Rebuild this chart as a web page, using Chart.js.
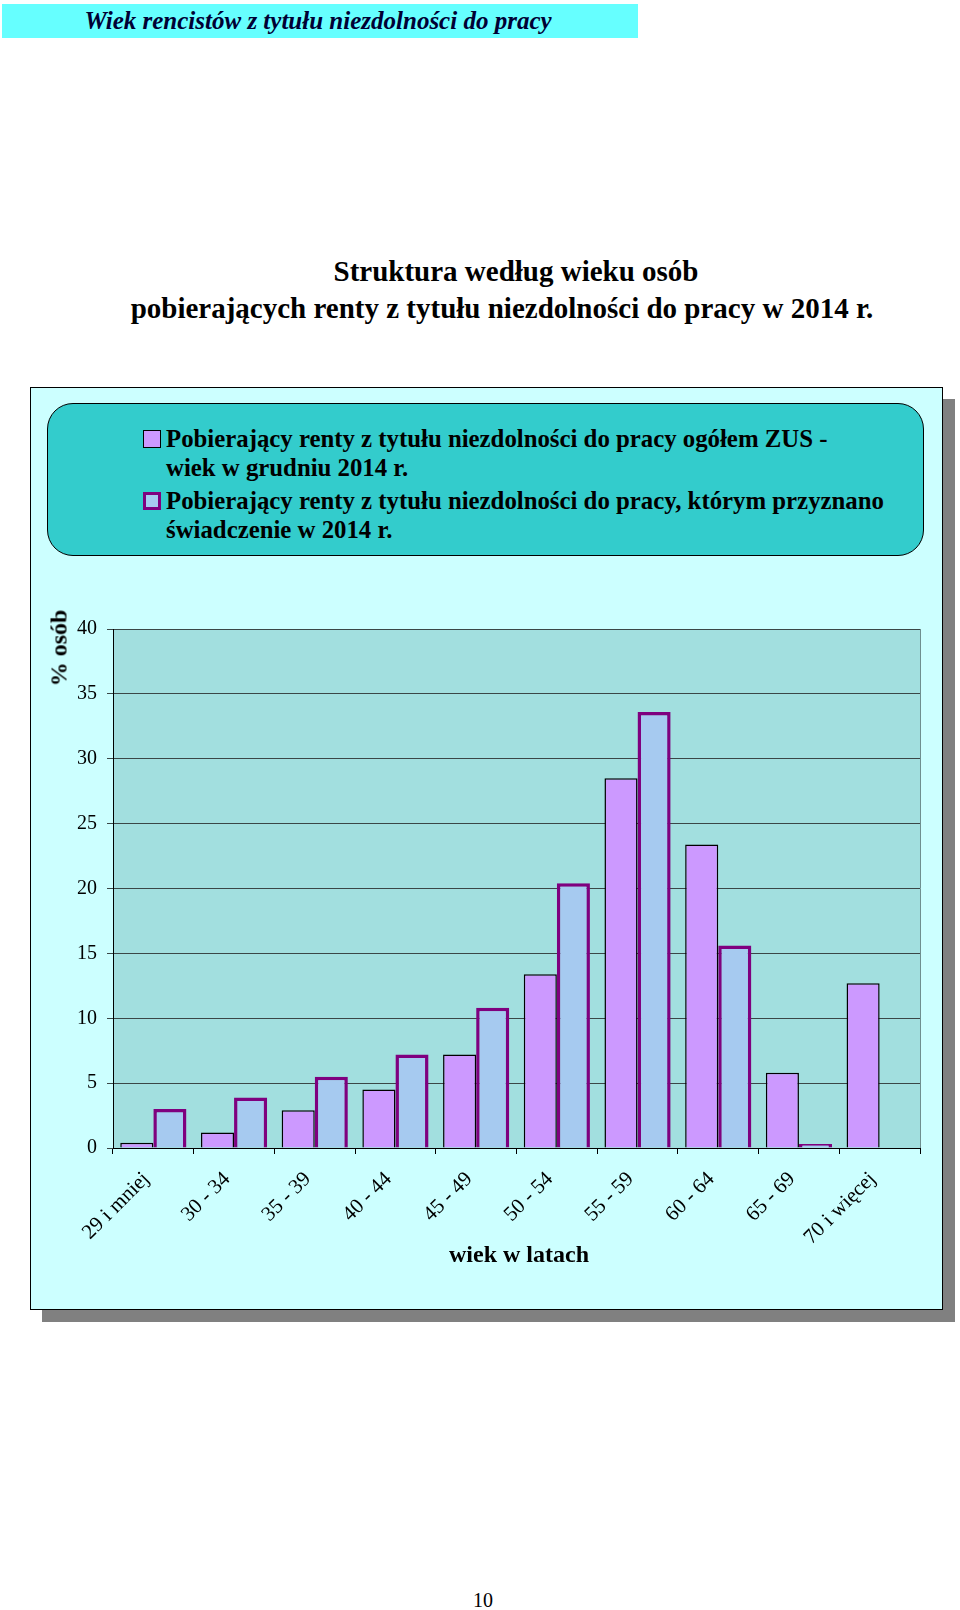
<!DOCTYPE html>
<html>
<head>
<meta charset="utf-8">
<script src="https://cdn.jsdelivr.net/npm/chart.js@4.4.1/dist/chart.umd.min.js"></script>
<style>
  html, body { margin: 0; padding: 0; background: #ffffff; }
  body { width: 960px; height: 1610px; position: relative; overflow: hidden; font-family: "Liberation Serif", "Times New Roman", serif; color: #000; }
  .abs { position: absolute; }
  #banner { left: 2px; top: 4px; width: 636px; height: 34px; background: #66FFFF; font-style: italic; font-weight: bold; font-size: 25px; line-height: 34px; text-align: center; color: #000033; text-indent: -4px; }
  .title { font-weight: bold; font-size: 29px; line-height: 34px; white-space: nowrap; text-align: center; }
  #box { left: 30px; top: 387px; width: 913px; height: 923px; box-sizing: border-box; border: 1px solid #000; background: #CCFFFF; box-shadow: 12px 12px 0 #808080; }
  #chartCanvas { left: 30px; top: 387px; }
  #legend { left: 47px; top: 403px; width: 877px; height: 153px; box-sizing: border-box; border: 1.5px solid #000; border-radius: 26px; background: #33CCCC; }
  .litem { position: absolute; left: 95px; display: flex; align-items: flex-start; }
  .lmark { width: 18px; height: 18px; box-sizing: border-box; margin-top: 6px; margin-right: 5px; flex: none; }
  .ltext { font-weight: bold; font-size: 24.8px; line-height: 29px; white-space: pre-line; }
  #ytitle { font-weight: bold; font-size: 24px; white-space: nowrap; transform: translate(-50%, -50%) rotate(-90deg); left: 59px; top: 648px; }
  #xtitle { font-weight: bold; font-size: 24px; white-space: nowrap; transform: translate(-50%, -50%); left: 519px; top: 1254px; }
  #pageno { font-size: 20px; transform: translate(-50%, -50%); left: 483px; top: 1600px; }
</style>
</head>
<body>
<div id="banner" class="abs">Wiek rencistów z tytułu niezdolności do pracy</div>
<div class="abs title" style="left:316px; top:254px; width:400px;">Struktura według wieku osób</div>
<div class="abs title" style="left:102px; top:291px; width:800px;">pobierających renty z tytułu niezdolności do pracy w 2014 r.</div>

<div id="box" class="abs"></div>
<canvas id="chartCanvas" class="abs" width="913" height="923"></canvas>
<div id="legend" class="abs"></div>
<div id="ytitle" class="abs">% osób</div>
<div id="xtitle" class="abs">wiek w latach</div>
<div id="pageno" class="abs">10</div>

<script>
// ---- data ----
const categories = ['29 i mniej', '30 - 34', '35 - 39', '40 - 44', '45 - 49', '50 - 54', '55 - 59', '60 - 64', '65 - 69', '70 i więcej'];
const ogolemValues = [0.4, 1.2, 2.9, 4.5, 7.2, 13.4, 28.5, 23.4, 5.8, 12.7];
const przyznaneValues = [3.0, 3.9, 5.5, 7.2, 10.8, 20.4, 33.6, 15.6, 0.3, null];
const seriesLabels = [
  'Pobierający renty z tytułu niezdolności do pracy ogółem ZUS -\nwiek w grudniu 2014 r.',
  'Pobierający renty z tytułu niezdolności do pracy, którym przyznano\nświadczenie w 2014 r.'
];
const yMin = 0, yMax = 40, yStep = 5;

// ---- chart ----
const plotBg = {
  id: 'plotBg',
  beforeDraw(chart) {
    const { ctx, chartArea: { left, top, right, bottom } } = chart;
    ctx.save();
    ctx.fillStyle = '#A2DFDF';
    ctx.fillRect(left, top, right - left, bottom - top);
    ctx.strokeStyle = '#6f8f8f';
    ctx.lineWidth = 1;
    ctx.beginPath();
    ctx.moveTo(Math.round(right) + 0.5, top);
    ctx.lineTo(Math.round(right) + 0.5, bottom);
    ctx.stroke();
    ctx.restore();
  }
};

const FONT = "'Liberation Serif', 'Times New Roman', serif";

const chart = new Chart(document.getElementById('chartCanvas'), {
  type: 'bar',
  data: {
    labels: categories,
    datasets: [
      { label: seriesLabels[0], data: ogolemValues, backgroundColor: '#CC99FF', borderColor: '#000000', borderWidth: 1.5 },
      { label: seriesLabels[1], data: przyznaneValues, backgroundColor: '#A6CAF0', borderColor: '#7F007F', borderWidth: 3.5 }
    ]
  },
  options: {
    responsive: false,
    animation: false,
    devicePixelRatio: 1,
    layout: { padding: { left: 0, top: 242, right: 23, bottom: 0 } },
    datasets: { bar: { categoryPercentage: 0.82, barPercentage: 1.0 } },
    plugins: { legend: { display: false }, tooltip: { enabled: false } },
    scales: {
      x: {
        grid: { drawOnChartArea: false, drawTicks: true, tickLength: 6, color: '#000', offset: true },
        border: { display: true, color: '#000', width: 1 },
        ticks: { color: '#000', font: { family: FONT, size: 21 }, minRotation: 45, maxRotation: 45, autoSkip: false, padding: 13, labelOffset: -7 },
        afterFit(s) { s.height = 162; s.paddingLeft = 0; s.paddingRight = 0; s.paddingTop = 0; s.paddingBottom = 0; }
      },
      y: {
        min: yMin, max: yMax,
        grid: { color: '#3a4646', lineWidth: 1, drawTicks: true, tickLength: 6 },
        border: { display: true, color: '#000', width: 1 },
        ticks: { stepSize: yStep, color: '#000', font: { family: FONT, size: 20 }, padding: 10 },
        afterFit(s) { s.width = 83; s.paddingTop = 0; s.paddingBottom = 0; s.paddingLeft = 0; s.paddingRight = 0; }
      }
    }
  },
  plugins: [plotBg]
});

// ---- HTML legend built from the datasets ----
const legend = document.getElementById('legend');
const tops = [20, 82];
chart.data.datasets.forEach((ds, i) => {
  const item = document.createElement('div');
  item.className = 'litem';
  item.style.top = tops[i] + 'px';
  const mark = document.createElement('div');
  mark.className = 'lmark';
  mark.style.background = ds.backgroundColor;
  mark.style.border = (i === 0 ? 1.5 : 3) + 'px solid ' + ds.borderColor;
  const txt = document.createElement('div');
  txt.className = 'ltext';
  txt.textContent = ds.label;
  item.appendChild(mark);
  item.appendChild(txt);
  legend.appendChild(item);
});
</script>
</body>
</html>
